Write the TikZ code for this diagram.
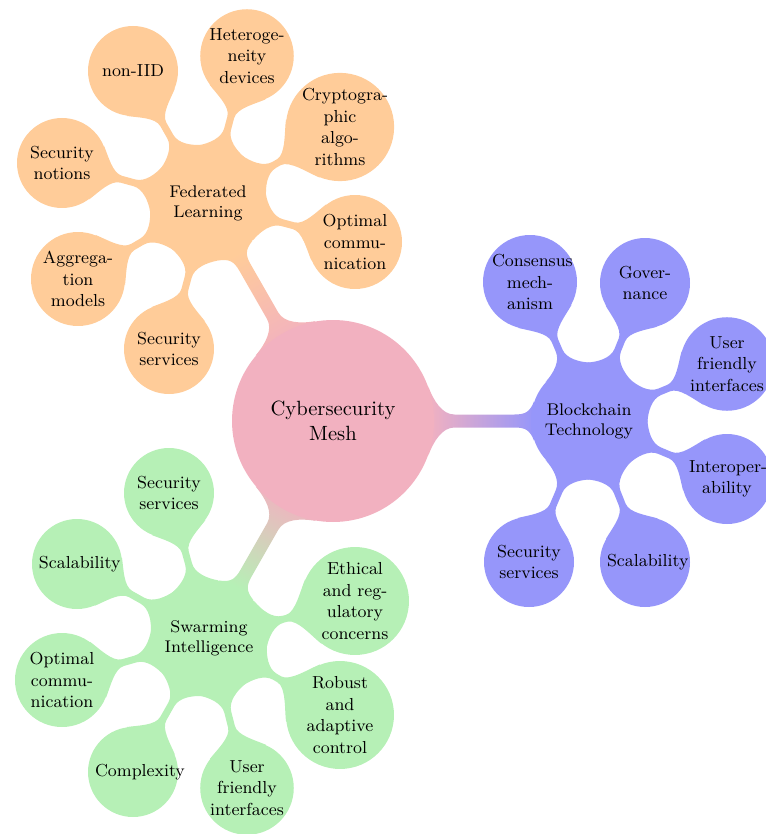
\documentclass[tikz,border=0pt]{standalone}
\usetikzlibrary{calc,backgrounds}
\definecolor{pinkc}{RGB}{242,177,192}
\definecolor{orangec}{RGB}{255,204,153}
\definecolor{bluec}{RGB}{150,150,250}
\definecolor{greenc}{RGB}{182,240,182}
% bar parameters (pt / degrees)
\def\mmA{20}\def\mmB{20}\def\mmFa{10}\def\mmFb{8}\def\mmW{3.25}
\def\mmKa{8}\def\mmKb{6}\def\mmKc{5}\def\mmKd{6}
% connection bar from node #1 to node #2, drawn with options #3
\newcommand\mmbar[3]{%
  \path[#3] let \p1=(#1.center), \p2=(#2.center), \p3=(#1.east), \p4=(#2.east),
    \n1={atan2(\y2-\y1,\x2-\x1)},
    \n3={\x3-\x1}, \n4={\x4-\x2},
    \n5={\x3-\x1+\mmFa pt}, \n6={\x4-\x2+\mmFb pt} in
    ($(\p1)+(\n1+\mmA:\n3)$)
      .. controls +(\n1+\mmA-90:\mmKa pt) and +(\n1+180:\mmKb pt) ..
    ($(\p1)+(\n1:\n5)+(\n1+90:\mmW pt)$)
      -- ($(\p2)+(\n1+180:\n6)+(\n1+90:\mmW pt)$)
      .. controls +(\n1:\mmKc pt) and +(\n1-90-\mmB:\mmKd pt) ..
    ($(\p2)+(\n1+180-\mmB:\n4)$)
      -- ($(\p2)+(\n1+180+\mmB:\n4)$)
      .. controls +(\n1+90+\mmB:\mmKd pt) and +(\n1:\mmKc pt) ..
    ($(\p2)+(\n1+180:\n6)+(\n1-90:\mmW pt)$)
      -- ($(\p1)+(\n1:\n5)+(\n1-90:\mmW pt)$)
      .. controls +(\n1+180:\mmKb pt) and +(\n1-\mmA+90:\mmKa pt) ..
    ($(\p1)+(\n1-\mmA:\n3)$) -- cycle;
}
\begin{document}
\begin{tikzpicture}[x=0.5pt,y=-0.5pt,
  rootc/.style={circle, fill=pinkc, minimum size=101pt, inner sep=0pt, align=center,
    font=\fontsize{10.3}{12.5}\selectfont},
  lvone/.style={circle, fill=#1, minimum size=58pt, inner sep=0pt, align=center,
    font=\fontsize{8.45}{10}\selectfont},
  lvtwo/.style={circle, fill=#1, minimum size=45pt, inner sep=0pt, text width=38pt, align=center,
    font=\fontsize{8.7}{10.75}\selectfont}
]
\useasboundingbox (0,0) rectangle (765,834);
% root and level 1
\node[rootc] (root) at (333,421) {Cybersecurity\\Mesh};
\node[lvone=orangec] (fl) at (208,203) {Federated\\Learning};
\node[lvone=bluec] (bc) at (589,421) {Blockchain\\Technology};
\node[lvone=greenc] (sw) at (209,638) {Swarming\\Intelligence};
% Federated Learning children
\node[lvtwo=orangec] (fl1) at (133,71) {non-IID};
\node[lvtwo=orangec] (fl2) at (247,56) {\mbox{Heteroge-}\\neity\\devices};
\node[lvtwo=orangec] (fl3) at (340,127) {\mbox{Cryptogra-}\\phic\\\mbox{algo-}\\rithms};
\node[lvtwo=orangec] (fl4) at (355,242) {Optimal\\\mbox{commu-}\\nication};
\node[lvtwo=orangec] (fl5) at (169,349) {Security\\services};
\node[lvtwo=orangec] (fl6) at (78,279) {\mbox{Aggrega-}\\tion\\models};
\node[lvtwo=orangec] (fl7) at (62,163) {Security\\notions};
% Blockchain children
\node[lvtwo=bluec] (bc1) at (530,282) {Consensus\\\mbox{mech-}\\anism};
\node[lvtwo=bluec] (bc2) at (645,283) {\mbox{Gover-}\\nance};
\node[lvtwo=bluec] (bc3) at (727,364) {User\\friendly\\interfaces};
\node[lvtwo=bluec] (bc4) at (727,479) {\mbox{Interoper-}\\ability};
\node[lvtwo=bluec] (bc5) at (645,562) {Scalability};
\node[lvtwo=bluec] (bc6) at (529,562) {Security\\services};
% Swarming children
\node[lvtwo=greenc] (sw1) at (169,493) {Security\\services};
\node[lvtwo=greenc] (sw2) at (77,564) {Scalability};
\node[lvtwo=greenc] (sw3) at (62,680) {Optimal\\\mbox{commu-}\\nication};
\node[lvtwo=greenc] (sw4) at (133,772) {Complexity};
\node[lvtwo=greenc] (sw5) at (247,788) {User\\friendly\\interfaces};
\node[lvtwo=greenc] (sw6) at (340,715) {Robust\\and\\adaptive\\control};
\node[lvtwo=greenc] (sw7) at (355,601) {Ethical\\\mbox{and reg-}\\ulatory\\concerns};
\begin{scope}[on background layer]
  % root to level 1
  \mmbar{root}{fl}{top color=orangec, bottom color=pinkc, shading angle=30}
  \mmbar{root}{bc}{top color=bluec, bottom color=pinkc, shading angle=-90}
  \mmbar{root}{sw}{top color=greenc, bottom color=pinkc, shading angle=150}
  % level 1 to level 2
  \def\mmA{25}\def\mmB{38}\def\mmFa{9}\def\mmFb{8}\def\mmW{1.75}
  \def\mmKa{6}\def\mmKb{5}\def\mmKc{5}\def\mmKd{6}
  \foreach \cn in {fl1,fl2,fl3,fl4,fl5,fl6,fl7}
    {\mmbar{fl}{\cn}{fill=orangec}}
  \foreach \cn in {bc1,bc2,bc3,bc4,bc5,bc6}
    {\mmbar{bc}{\cn}{fill=bluec}}
  \foreach \cn in {sw1,sw2,sw3,sw4,sw5,sw6,sw7}
    {\mmbar{sw}{\cn}{fill=greenc}}
\end{scope}
\end{tikzpicture}
\end{document}
